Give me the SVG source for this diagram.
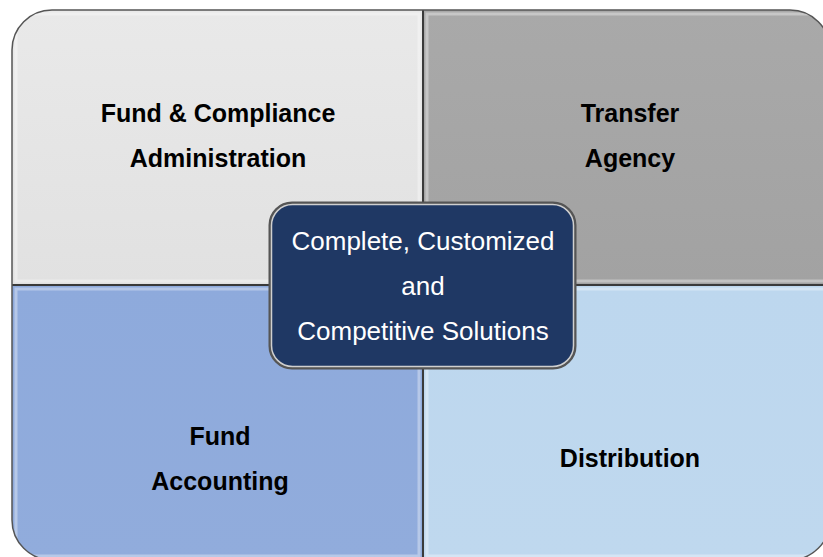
<svg xmlns="http://www.w3.org/2000/svg" width="823" height="557" viewBox="0 0 823 557">
  <style>
    .q { stroke: none; }
    .lbl { font-family: "Liberation Sans", Arial, sans-serif; font-weight: bold; font-size: 25px; fill: #000000; text-anchor: middle; }
    .ctr { font-family: "Liberation Sans", Arial, sans-serif; font-size: 26px; fill: #ffffff; text-anchor: middle; }
    .div { stroke: #3a3a3a; stroke-width: 2; }
    .hl { fill: none; stroke: #ffffff; stroke-opacity: 0.35; stroke-width: 3; }
  </style>
  <defs>
    <clipPath id="outer">
      <rect x="12" y="10" width="818" height="550" rx="40" ry="40"/>
    </clipPath>
    <linearGradient id="gTL" x1="0" y1="0" x2="0" y2="1">
      <stop offset="0" stop-color="#e9e9e9"/>
      <stop offset="1" stop-color="#e1e1e1"/>
    </linearGradient>
    <linearGradient id="gTR" x1="0" y1="0" x2="0" y2="1">
      <stop offset="0" stop-color="#a9a9a9"/>
      <stop offset="1" stop-color="#a2a2a2"/>
    </linearGradient>
    <linearGradient id="gBL" x1="0" y1="0" x2="0" y2="1">
      <stop offset="0" stop-color="#8eaadc"/>
      <stop offset="1" stop-color="#91acdc"/>
    </linearGradient>
    <linearGradient id="gBR" x1="0" y1="0" x2="0" y2="1">
      <stop offset="0" stop-color="#bdd7ee"/>
      <stop offset="1" stop-color="#bfd8ee"/>
    </linearGradient>
  </defs>

  <g clip-path="url(#outer)">
    <g id="fund-compliance">
      <rect class="q" x="12" y="10" width="411" height="275" fill="url(#gTL)"/>
      <rect class="hl" x="16" y="14" width="403" height="267"/>
      <text class="lbl" x="218" y="122">Fund &amp; Compliance</text>
      <text class="lbl" x="218" y="167">Administration</text>
    </g>
    <g id="transfer-agency">
      <rect class="q" x="423" y="10" width="407" height="275" fill="url(#gTR)"/>
      <rect class="hl" x="427" y="14" width="399" height="267"/>
      <text class="lbl" x="630" y="122">Transfer</text>
      <text class="lbl" x="630" y="167">Agency</text>
    </g>
    <g id="fund-accounting">
      <rect class="q" x="12" y="285" width="411" height="275" fill="url(#gBL)"/>
      <rect class="hl" x="16" y="289" width="403" height="267"/>
      <text class="lbl" x="220" y="445">Fund</text>
      <text class="lbl" x="220" y="490">Accounting</text>
    </g>
    <g id="distribution">
      <rect class="q" x="423" y="285" width="407" height="275" fill="url(#gBR)"/>
      <rect class="hl" x="427" y="289" width="399" height="267"/>
      <text class="lbl" x="630" y="467">Distribution</text>
    </g>
    <line class="div" x1="423" y1="10" x2="423" y2="560"/>
    <line class="div" x1="12" y1="285" x2="830" y2="285"/>
  </g>
  <rect x="12" y="10" width="818" height="550" rx="40" ry="40" fill="none" stroke="#555555" stroke-width="1.5"/>

  <g id="center">
    <rect x="270" y="203" width="305" height="165" rx="22" ry="22" fill="#1f3864" stroke="#555555" stroke-width="3"/>
    <rect x="271.5" y="204.5" width="302" height="162" rx="21" ry="21" fill="none" stroke="#d0d0d0" stroke-width="1.5"/>
    <text class="ctr" x="423" y="250">Complete, Customized</text>
    <text class="ctr" x="423" y="295">and</text>
    <text class="ctr" x="423" y="340">Competitive Solutions</text>
  </g>
</svg>
